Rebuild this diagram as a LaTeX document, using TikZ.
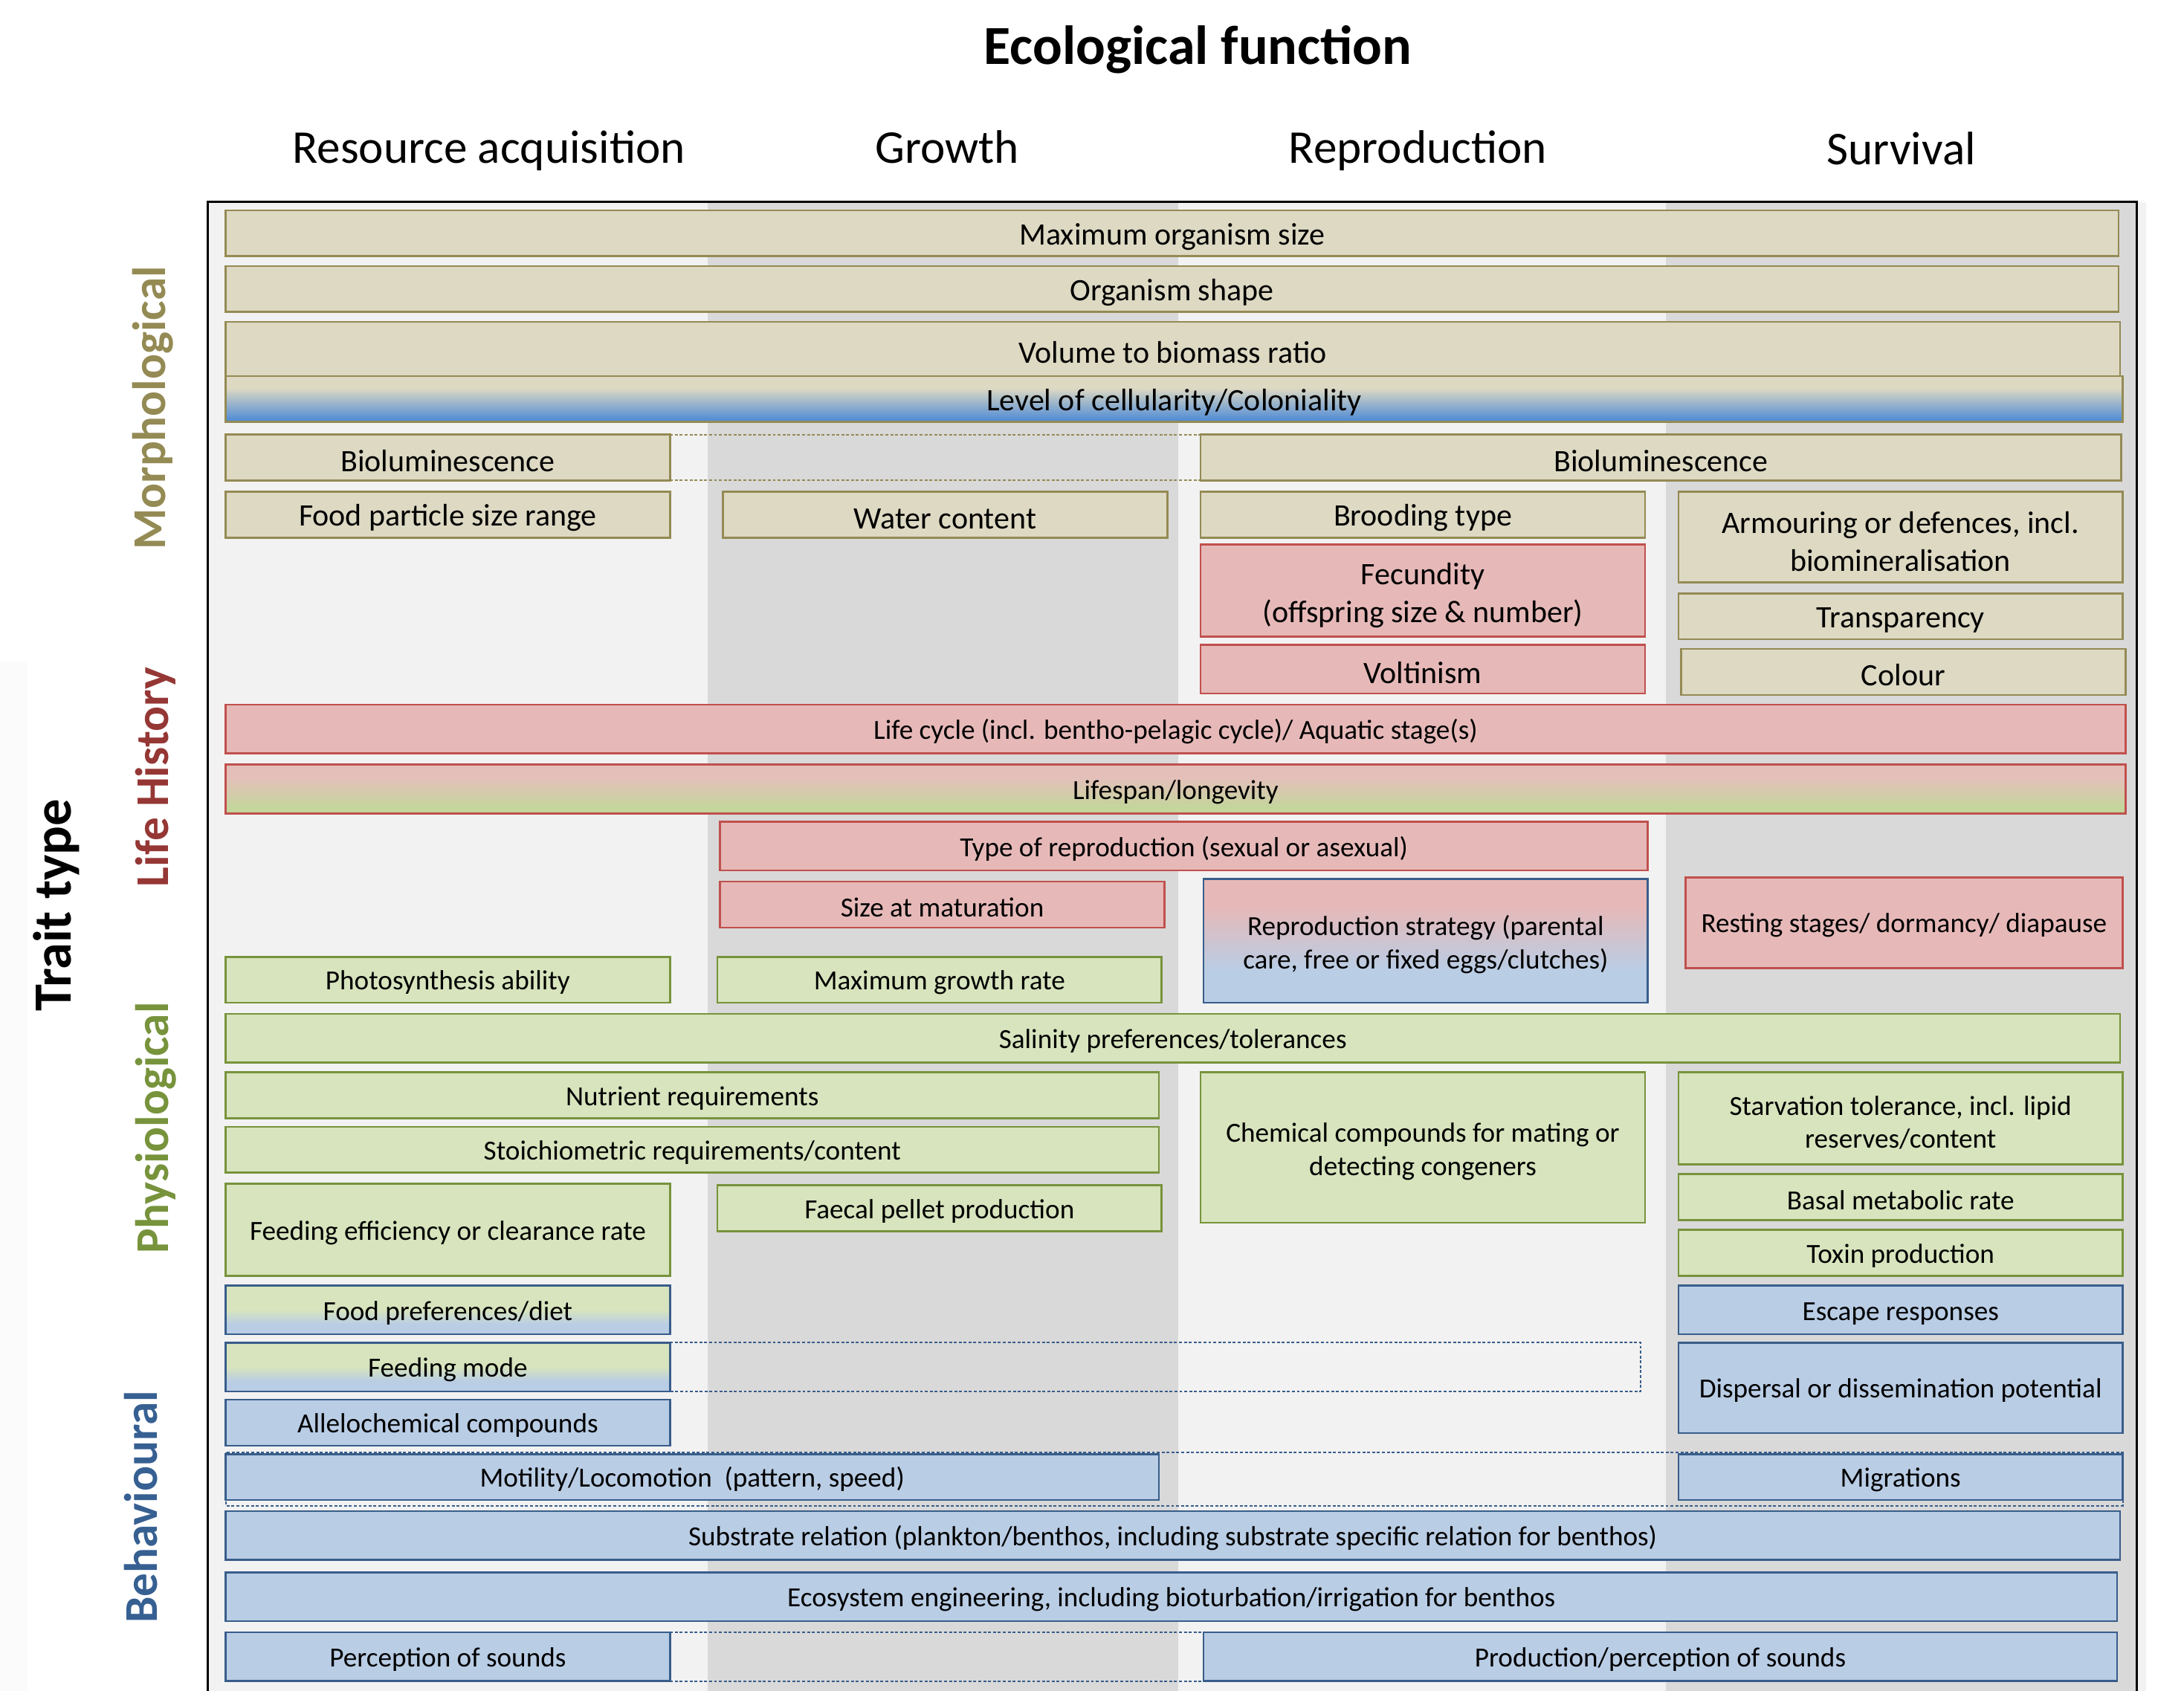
\documentclass[tikz,border=0pt]{standalone}
\usepackage{fontspec}
\setmainfont{Carlito}

\definecolor{morphfill}{HTML}{DDD9C3}
\definecolor{morphline}{HTML}{948A54}
\definecolor{lifefill}{HTML}{E6B9B8}
\definecolor{lifeline}{HTML}{C0504D}
\definecolor{lifetext}{HTML}{953735}
\definecolor{physfill}{HTML}{D7E4BD}
\definecolor{physline}{HTML}{77933C}
\definecolor{behavfill}{HTML}{B9CDE5}
\definecolor{behavline}{HTML}{385D8A}
\definecolor{behavtext}{HTML}{376092}
\definecolor{cellblue}{HTML}{558ED5}
\definecolor{spangreen}{HTML}{C3D69B}
\definecolor{colpale}{HTML}{F2F2F2}
\definecolor{coldark}{HTML}{D9D9D9}

% two-colour boxes (25bp = bottom edge, 75bp = top edge)
\pgfdeclareverticalshading{cellshade}{100bp}{color(0bp)=(cellblue); color(28bp)=(cellblue);
    color(62bp)=(morphfill); color(100bp)=(morphfill)}
\pgfdeclareverticalshading{spanshade}{100bp}{color(0bp)=(spangreen); color(30bp)=(spangreen);
    color(62bp)=(lifefill!80!morphfill); color(100bp)=(lifefill!80!morphfill)}
\pgfdeclareverticalshading{reproshade}{100bp}{color(0bp)=(behavfill); color(38bp)=(behavfill);
    color(64bp)=(lifefill); color(100bp)=(lifefill)}
\pgfdeclareverticalshading{feedshade}{100bp}{color(0bp)=(behavfill); color(35bp)=(behavfill);
    color(50bp)=(physfill); color(100bp)=(physfill)}

\newcommand{\bigtext}{\fontsize{12.75}{15.4}\selectfont}
\newcommand{\smalltext}{\fontsize{11.3}{13.6}\selectfont}
\newcommand{\headtext}{\fontsize{19.2}{23}\selectfont}
\newcommand{\lift}{\rule{0pt}{1.0em}}

\tikzset{
    trait/.style={draw,line width=0.8pt,inner sep=0pt,outer sep=0pt,
                  align=center,font=\smalltext,
                  execute at begin node={\rule{0pt}{0.9em}}},
    span/.style n args={4}{at={({(#1+#3)/2},{(#2+#4)/2})},
                  minimum width={(#3-#1)*0.02cm},
                  minimum height={(#4-#2)*0.02cm}},
    morph/.style={trait,font=\bigtext,fill=morphfill,draw=morphline},
    life/.style={trait,fill=lifefill,draw=lifeline},
    phys/.style={trait,fill=physfill,draw=physline},
    behav/.style={trait,fill=behavfill,draw=behavline},
    mlink/.style={draw=morphline,line width=0.6pt,dash pattern=on 1.2pt off 0.8pt},
    blink/.style={draw=behavline,line width=0.6pt,dash pattern=on 1.2pt off 0.8pt},
    typelabel/.style={font=\bfseries\headtext,rotate=90,anchor=base},
}

\begin{document}
\begin{tikzpicture}[x=0.02cm,y=-0.02cm,line cap=butt,line join=miter]
    \useasboundingbox (0,0) rectangle (1568,1214);
    \clip (0,0) rectangle (1568,1214);

    %% Background columns and frame.
    \fill[black!1.5] (0,475) rectangle (20,1214);
    \fill[colpale] (1534,145) rectangle (1541,1214);
    \foreach \xl/\xr/\shade in {149/508/colpale,508/846/coldark,
                                846/1196/colpale,1196/1534/coldark} {
        \fill[\shade] (\xl,145) rectangle (\xr,1230);
    }
    \draw[line width=0.8pt] (149,1230) -- (149,145) -- (1534,145) -- (1534,1230);

    %% Headings.
    \node[font=\bfseries\fontsize{22.5}{27}\selectfont,anchor=base] (title) at (860,46) {Ecological function};
    \foreach \name/\xc/\yb/\lbl in {acq/351/117/Resource acquisition,growth/680/117/Growth,
                                    repro/1018/117/Reproduction,surv/1365/118/Survival} {
        \node[font=\headtext,anchor=base] (\name) at (\xc,\yb) {\lbl};
    }
    \node[typelabel,font=\bfseries\fontsize{22}{26}\selectfont] (traittype) at (51,650) {Trait type};
    \node[typelabel,text=morphline] (morphlabel) at (119,293) {Morphological};
    \node[typelabel,text=lifetext]  (lifelabel)  at (121,558) {Life History};
    \node[typelabel,text=physline]  (physlabel)  at (121,810) {Physiological};
    \node[typelabel,text=behavtext] (behavlabel) at (113,1082) {Behavioural};

    %% Dashed links, drawn under the boxes.
    \coordinate (feedend) at (1178,965);
    \coordinate (motend) at (1524,1081);
    \draw[blink] (162,1043) rectangle (motend);

    % Morphological traits.
    \foreach \name/\xl/\yt/\xr/\yb/\lbl in {%
        maxsize/162/151/1521/184/{Maximum organism size},
        shape/162/191/1521/224/{Organism shape},
        volume/162/231/1522/270/{Volume to biomass ratio},
        biolumA/162/312/481/345/{Bioluminescence},
        biolumB/862/312/1523/345/{Bioluminescence},
        foodsize/162/353/481/386/{Food particle size range},
        water/519/353/838/386/{Water content},
        brooding/862/353/1181/386/{Brooding type},
        armour/1205/353/1524/418/{\lift Armouring or defences, incl.\\biomineralisation},
        transp/1205/426/1524/459/{Transparency},
        colour/1207/466/1526/499/{Colour}} {
        \node[morph,span={\xl}{\yt}{\xr}{\yb}] (\name) {\lbl};
    }
    \node[morph,span={162}{270}{1524}{303},shade,shading=cellshade]
        (cellular) {Level of cellularity/Coloniality};
    \draw[mlink] (biolumA.north east) -- (biolumB.north west)
                 (biolumA.south east) -- (biolumB.south west);

    % Life history traits.
    \foreach \name/\xl/\yt/\xr/\yb/\lbl in {%
        lifecycle/162/506/1526/541/{Life cycle (incl. bentho-pelagic cycle)/ Aquatic stage(s)},
        reprotype/517/590/1183/625/{Type of reproduction (sexual or asexual)},
        maturation/517/633/836/666/{Size at maturation},
        resting/1210/630/1524/695/{Resting stages/ dormancy/ diapause}} {
        \node[life,span={\xl}{\yt}{\xr}{\yb}] (\name) {\lbl};
    }
    \node[life,font=\bigtext,span={862}{391}{1181}{457}] (fecundity)
        {\lift Fecundity\\(offspring size \& number)};
    \node[life,font=\bigtext,span={862}{463}{1181}{498}] (voltinism) {Voltinism};
    \node[life,span={162}{549}{1526}{584},shade,shading=spanshade]
        (lifespan) {Lifespan/longevity};
    \node[behav,span={864}{631}{1183}{720},shade,shading=reproshade]
        (reprostrat) {\lift Reproduction strategy (parental\\care, free or fixed eggs/clutches)};

    % Physiological traits.
    \foreach \name/\xl/\yt/\xr/\yb/\lbl in {%
        photo/162/687/481/720/{Photosynthesis ability},
        growthrate/515/687/834/720/{Maximum growth rate},
        salinity/162/728/1522/763/{Salinity preferences/tolerances},
        nutrient/162/770/832/803/{Nutrient requirements},
        stoich/162/809/832/842/{Stoichiometric requirements/content},
        chemical/862/770/1181/878/{\lift Chemical compounds for mating or\\detecting congeners},
        starvation/1205/770/1524/836/{\lift Starvation tolerance, incl. lipid\\reserves/content},
        feedeff/162/850/481/916/{Feeding efficiency or clearance rate},
        faecal/515/851/834/884/{Faecal pellet production},
        basal/1205/843/1524/876/{Basal metabolic rate},
        toxin/1205/883/1524/916/{Toxin production}} {
        \node[phys,span={\xl}{\yt}{\xr}{\yb}] (\name) {\lbl};
    }

    % Behavioural traits.
    \foreach \name/\xl/\yt/\xr/\yb/\lbl in {%
        foodpref/162/923/481/958/{Food preferences/diet},
        feedmode/162/964/481/999/{Feeding mode}} {
        \node[behav,span={\xl}{\yt}{\xr}{\yb},shade,shading=feedshade] (\name) {\lbl};
    }
    \foreach \name/\xl/\yt/\xr/\yb/\lbl in {%
        allelo/162/1005/481/1038/{Allelochemical compounds},
        escape/1205/923/1524/958/{Escape responses},
        dispersal/1205/964/1524/1029/{Dispersal or dissemination potential},
        motility/162/1044/832/1077/{Motility/Locomotion~ (pattern, speed)},
        migrations/1205/1044/1524/1077/{Migrations},
        substrate/162/1085/1522/1120/{Substrate relation (plankton/benthos, including substrate specific relation for benthos)},
        engineering/162/1129/1520/1164/{Ecosystem engineering, including bioturbation/irrigation for benthos},
        percep/162/1172/481/1207/{Perception of sounds},
        prodsound/864/1172/1520/1207/{Production/perception of sounds}} {
        \node[behav,span={\xl}{\yt}{\xr}{\yb}] (\name) {\lbl};
    }
    \draw[blink] (feedmode.north east) -- (feedmode.north east -| feedend)
                 |- (feedmode.south east);
    \draw[blink] (percep.north east) -- (prodsound.north west)
                 (percep.south east) -- (prodsound.south west);
\end{tikzpicture}
\end{document}
